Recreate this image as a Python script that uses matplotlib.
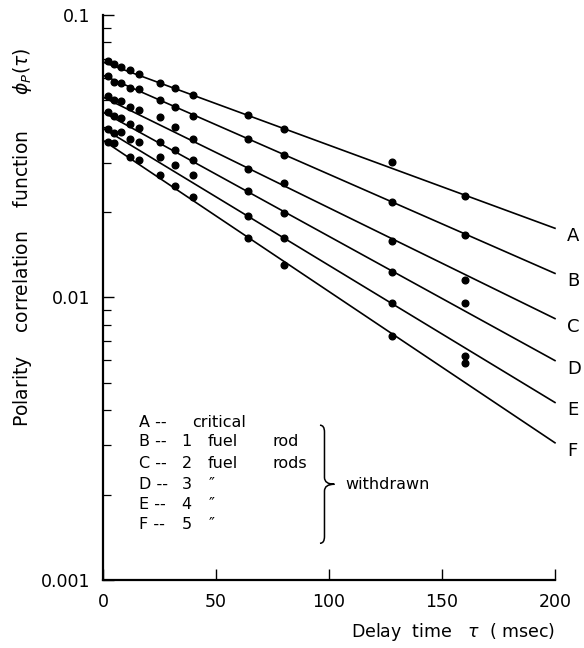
import numpy as np
import matplotlib
matplotlib.use("Agg")
import matplotlib.pyplot as plt
from matplotlib.path import Path
from matplotlib.patches import PathPatch
from matplotlib.ticker import LogLocator, NullFormatter, FixedLocator, FixedFormatter

# delay times (msec) at which the correlation was measured
TAU = [2, 5, 8, 12, 16, 25, 32, 40, 64, 80, 128, 160]

CURVES = ["A", "B", "C", "D", "E", "F"]

# measured polarity correlation, one list per curve (nan = no point)
PHI_A = [0.0688, 0.0670, 0.0652, 0.0638, 0.0618, 0.0575, 0.0550, 0.0520, 0.0442, 0.0394, 0.0301, 0.0228]
PHI_B = [0.0608, 0.0580, 0.0573, 0.0550, 0.0545, 0.0502, 0.0471, 0.0438, 0.0365, 0.0319, 0.0217, 0.0166]
PHI_C = [0.0516, 0.0502, 0.0497, 0.0473, 0.0460, 0.0435, 0.0401, 0.0363, 0.0286, 0.0254, 0.0159, 0.0115]
PHI_D = [0.0454, 0.0438, 0.0431, 0.0411, 0.0398, 0.0354, 0.0332, 0.0306, 0.0239, 0.0199, 0.0123, 0.0096]
PHI_E = [0.0396, 0.0382, 0.0386, 0.0365, 0.0355, 0.0314, 0.0294, 0.0271, 0.0194, 0.0163, 0.0096, 0.00623]
PHI_F = [0.0355, 0.0351, np.nan, 0.0314, 0.0306, 0.0271, 0.0249, 0.0227, 0.0163, 0.0130, 0.00733, 0.00588]
PHI = [PHI_A, PHI_B, PHI_C, PHI_D, PHI_E, PHI_F]

# fitted exponential lines: value at tau = 0 and tau = 200 msec
FIT_TAU = [0, 200]
FIT_START = [0.0681, 0.0612, 0.0512, 0.0453, 0.0397, 0.0360]
FIT_END = [0.01758, 0.01217, 0.00842, 0.00598, 0.00425, 0.00306]

# key text
KEY_NUM = ["", "1", "2", "3", "4", "5"]
KEY_WORD = ["critical", "fuel", "fuel", "\u2033", "\u2033", "\u2033"]
KEY_ROD = ["", "rod", "rods", "", "", ""]

fig = plt.figure(figsize=(5.84, 6.48), dpi=100)
ax = fig.add_axes([0.1764, 0.1049, 0.7739, 0.872])

for phi, a0, a1, name in zip(PHI, FIT_START, FIT_END, CURVES):
    ax.plot(FIT_TAU, [a0, a1], color="black", lw=1.2, zorder=2, clip_on=False)
    ax.plot(TAU, phi, "o", color="black", ms=4.8, mec="black", zorder=3)
    ax.annotate(name, (FIT_TAU[1], a1), textcoords="offset pixels",
                xytext=(12, -8), ha="left", va="center", fontsize=13,
                annotation_clip=False)

ax.set_yscale("log")
ax.set_xlim(0, 200)
ax.set_ylim(0.001, 0.1)

ax.xaxis.set_major_locator(FixedLocator([0, 50, 100, 150, 200]))
ax.yaxis.set_major_locator(FixedLocator([0.001, 0.01, 0.1]))
ax.yaxis.set_major_formatter(FixedFormatter(["0.001", "0.01", "0.1"]))
ax.yaxis.set_minor_locator(LogLocator(base=10, subs=np.arange(2, 10)))
ax.yaxis.set_minor_formatter(NullFormatter())

for side in ("top", "right"):
    ax.spines[side].set_visible(False)
for side in ("left", "bottom"):
    ax.spines[side].set_linewidth(1.6)

ax.tick_params(axis="both", which="major", direction="in", length=8, width=1.0,
               labelsize=12.5, pad=9)
ax.tick_params(axis="y", which="minor", direction="in", length=6, width=0.9)
ax.tick_params(axis="x", which="major", pad=9)

# key for the curves
KEY_FS = 11.5
row_y = [0.2796, 0.2443, 0.2071, 0.1699, 0.1345, 0.0991]
for i, name in enumerate(CURVES):
    y = row_y[i]
    ax.text(0.080, y, name + " --", transform=ax.transAxes, fontsize=KEY_FS,
            va="center", ha="left")
    if KEY_NUM[i]:
        ax.text(0.185, y, KEY_NUM[i], transform=ax.transAxes, fontsize=KEY_FS,
                va="center", ha="center")
        ax.text(0.232 if KEY_ROD[i] else 0.241, y, KEY_WORD[i], transform=ax.transAxes,
                fontsize=KEY_FS, va="center", ha="left" if KEY_ROD[i] else "center")
    else:
        ax.text(0.197, y, KEY_WORD[i], transform=ax.transAxes, fontsize=KEY_FS,
                va="center", ha="left")
    if KEY_ROD[i]:
        ax.text(0.376, y, KEY_ROD[i], transform=ax.transAxes, fontsize=KEY_FS,
                va="center", ha="left")

# right curly brace grouping B..F
bx, tip, top, bot = 0.490, 0.512, 0.262, 0.077
mid = (top + bot) / 2
q = 0.012
verts = [(bx - 0.01, top + q), (bx, top + q), (bx, top),
         (bx, mid + q), (bx, mid), (tip, mid),
         (bx, mid), (bx, mid - q), (bx, bot),
         (bx, bot - q), (bx - 0.01, bot - q)]
codes = [Path.MOVETO, Path.CURVE3, Path.CURVE3, Path.LINETO, Path.CURVE3, Path.CURVE3,
         Path.CURVE3, Path.CURVE3, Path.LINETO, Path.CURVE3, Path.CURVE3]
ax.add_patch(PathPatch(Path(verts, codes), transform=ax.transAxes, fill=False,
                       lw=1.1, color="black"))
ax.text(0.537, mid, "withdrawn", transform=ax.transAxes, fontsize=KEY_FS,
        va="center", ha="left")

fig.text(0.950, 0.025, r"Delay  time   $\tau$  ( msec)", ha="right", va="center",
         fontsize=12.5)
fig.text(0.038, 0.634, r"Polarity    correlation    function      $\phi_P(\tau)$",
         rotation=90, ha="center", va="center", fontsize=13.5)

fig.savefig("out.png", dpi=100)
